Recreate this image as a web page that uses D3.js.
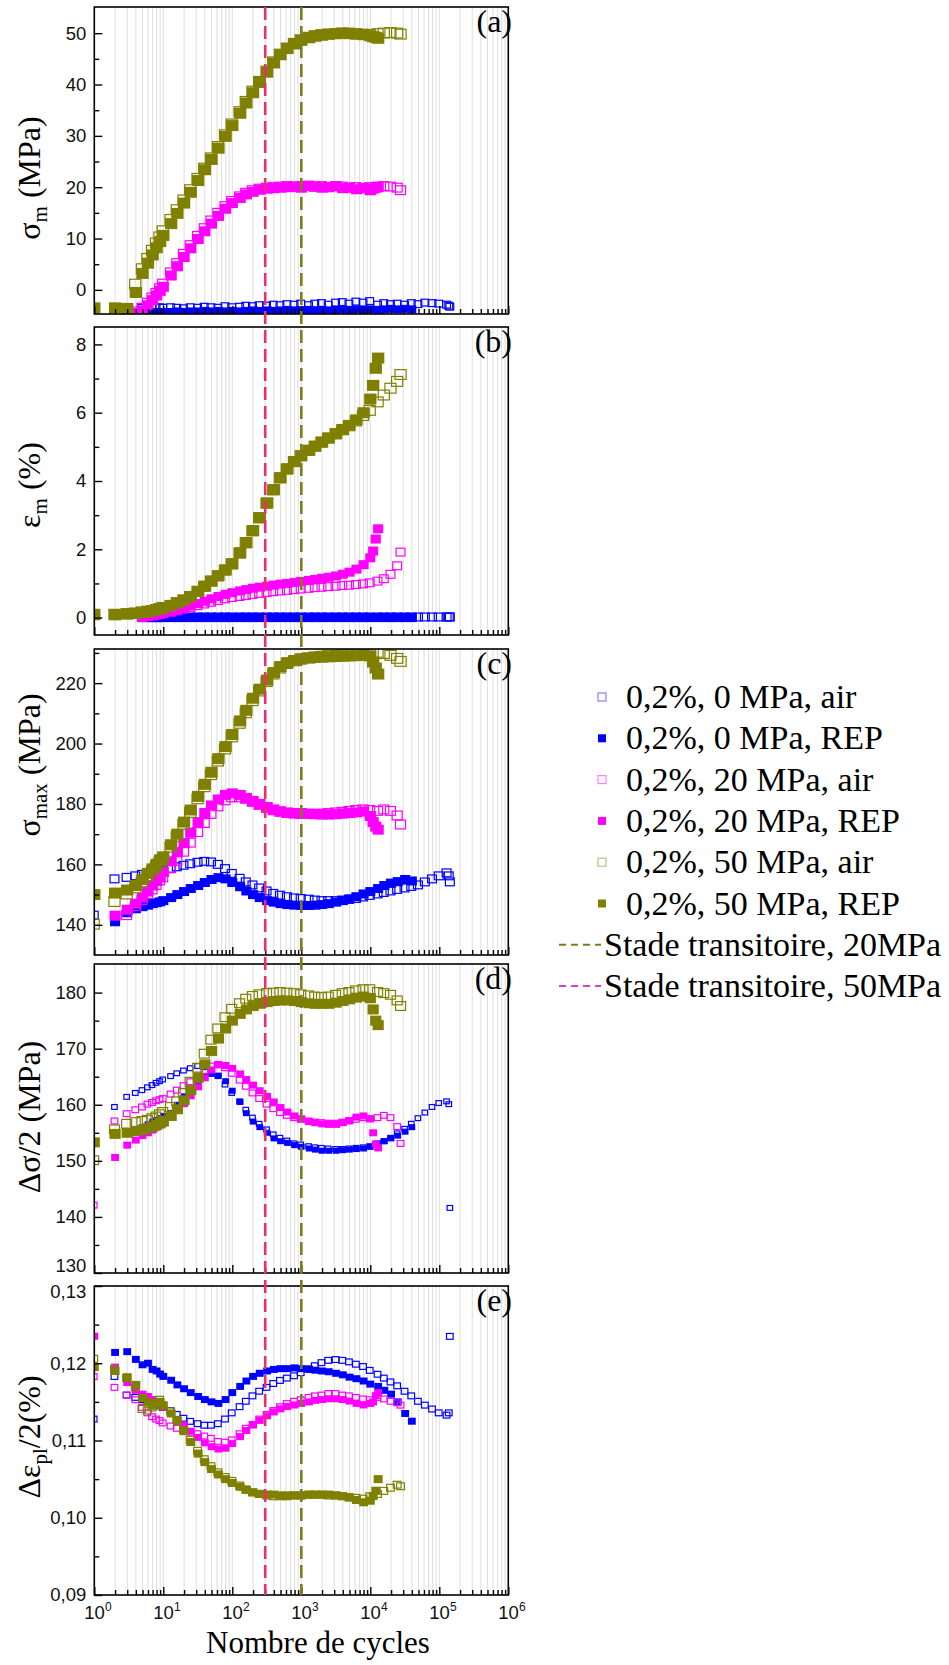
<!DOCTYPE html>
<html><head><meta charset="utf-8">
<script src="https://cdn.jsdelivr.net/npm/d3@7"></script>
<style>
html,body{margin:0;padding:0;background:#fff;}
svg{display:block;}
</style></head><body>
<svg id="chart" width="949" height="1665"></svg>
<script>
// ---------------- DATA ----------------
// shared cycle points (N)
const CYC = [1,2,3,4,5,6,7,8,9,10,13,16,20,25,32,40,50,63,80,100,130,160,200,250,320,400,500,630,800,1000,1300,1600,2000,2500,3200,4000,5000,6300,8000,10000];
const cycAir0  = CYC.concat([13000,16000,20000,25000,32000,40000,50000,63000,80000,100000,130000,140000,145000]);
const cycRep0  = CYC.concat([13000,16000,20000,25000,32000,40000]);
const cycAir20 = CYC.concat([13000,16000,20000,25000,28000]);
const cycRep20 = CYC.concat([11000,12000,13000]);
const cycAir50 = CYC.concat([13000,16000,20000,25000,28000]);
const cycRep50 = CYC.concat([11000,12000,13000]);

const seriesLabels = ["0,2%, 0 MPa, air","0,2%, 0 MPa, REP","0,2%, 20 MPa, air","0,2%, 20 MPa, REP","0,2%, 50 MPa, air","0,2%, 50 MPa, REP"];
const stageLabels = ["Stade transitoire, 20MPa","Stade transitoire, 50MPa"];
const stageCycles = [1000, 300];

// (a) sigma_m (MPa)
const A_air0 = [null,null,null,null,-3.6,-3.7,-3.5,-3.6,-3.5,-3.6,
 -3.5,-3.6,-3.7,-3.5,-3.6,-3.4,-3.5,-3.6,-3.3,-3.5,
 -3.4,-3.2,-3.3,-3.1,-3.2,-3.0,-3.1,-2.9,-3.0,-2.8,
 -3.1,-2.8,-2.7,-3.0,-2.6,-2.5,-2.8,-2.4,-2.6,-2.3,
 -3.0,-2.7,-2.9,-2.8,-3.0,-2.7,-2.9,-2.6,-2.7,-2.8,-3.0,-3.2,-3.4];
const A_rep0 = [null,null,null,null,-4.4,-4.4,-4.3,-4.4,-4.3,-4.3,
 -4.3,-4.2,-4.3,-4.2,-4.2,-4.1,-4.2,-4.1,-4.2,-4.1,
 -4.2,-4.1,-4.0,-4.1,-4.0,-4.1,-4.0,-3.9,-4.0,-4.0,
 -3.9,-4.0,-3.9,-4.0,-3.9,-3.8,-3.9,-3.8,-3.9,-3.8,
 -3.9,-3.8,-3.7,-3.8,-3.7,-3.8];
const A_air20 = [null,null,null,-4.3,-3.6,-2.6,-1.6,-0.7,0.2,1.1,
 3.3,5.1,6.9,8.6,10.4,11.9,13.4,14.9,16.2,17.2,
 18.1,18.8,19.3,19.6,19.8,19.9,20.0,20.1,20.0,20.1,
 20.2,20.0,20.1,19.9,20.1,20.0,19.8,19.9,19.7,19.9,
 20.0,20.1,20.0,19.8,19.3];
const A_rep20 = [null,null,null,-4.5,-4.0,-3.0,-2.0,-1.1,-0.2,0.6,
 2.8,4.6,6.4,8.1,9.9,11.4,12.9,14.4,15.8,16.9,
 17.9,18.6,19.1,19.5,19.7,19.8,19.9,20.0,20.1,19.9,
 20.2,20.1,19.9,20.0,20.2,19.8,19.9,19.6,19.8,19.4,
 19.7,19.9,20.0];
const A_air50 = [null,null,null,1.0,4.0,6.0,7.6,9.0,10.2,11.4,
 13.6,15.5,17.4,19.4,21.6,23.6,25.6,27.8,30.1,32.2,
 34.6,36.6,38.6,40.5,42.5,44.3,45.8,47.0,47.9,48.6,
 49.1,49.4,49.6,49.7,49.8,49.9,49.9,49.8,49.7,49.6,
 49.8,49.9,50.0,49.9,49.7];
const A_rep50 = [-3.5,-3.5,-3.6,-0.5,3.2,5.2,6.8,8.2,9.4,10.6,
 12.9,14.9,16.9,19.0,21.3,23.4,25.4,27.6,29.9,32.0,
 34.4,36.4,38.4,40.4,42.4,44.2,45.8,47.0,47.9,48.6,
 49.1,49.4,49.6,49.8,49.9,50.0,49.9,49.8,49.7,49.5,
 49.3,49.2,49.0];

// (b) epsilon_m (%)
const B_air0 = [null,null,null,null,0,0,0,0,0,0,
 0,0,0,0,0,0,0,0,0,0,
 0,0,0,0,0,0,0,0,0,0,
 0,0,0,0,0,0,0,0,0,0,
 0,0,0,0,0,0,0,0,0,0,0,0,0];
const B_rep0 = [null,null,null,null,0,0,0,0,0,0,
 0,0,0,0,0,0,0,0,0,0,
 0,0,0,0,0,0,0,0,0,0,
 0,0,0,0,0,0,0,0,0,0,
 0,0,0,0,0,0];
const B_air20 = [null,null,null,null,0.0,0.02,0.04,0.06,0.08,0.1,
 0.14,0.18,0.23,0.28,0.33,0.38,0.43,0.48,0.53,0.57,
 0.6,0.63,0.66,0.69,0.72,0.74,0.76,0.78,0.8,0.82,
 0.84,0.86,0.87,0.89,0.9,0.92,0.93,0.95,0.97,1.0,
 1.05,1.12,1.25,1.5,1.9];
const B_rep20 = [null,null,null,null,0.0,0.03,0.05,0.08,0.1,0.12,
 0.17,0.22,0.28,0.34,0.41,0.48,0.55,0.62,0.68,0.73,
 0.78,0.82,0.86,0.89,0.92,0.95,0.98,1.0,1.03,1.06,
 1.09,1.12,1.15,1.18,1.22,1.27,1.33,1.42,1.55,1.75,
 1.95,2.3,2.6];
const B_air50 = [0.08,0.08,0.1,0.12,0.15,0.17,0.19,0.22,0.25,0.28,
 0.34,0.42,0.5,0.6,0.75,0.9,1.05,1.2,1.37,1.55,
 1.87,2.17,2.52,2.9,3.33,3.72,4.07,4.33,4.55,4.72,
 4.88,5.0,5.12,5.24,5.36,5.48,5.6,5.74,5.9,6.05,
 6.3,6.5,6.7,6.9,7.1];
const B_rep50 = [0.08,0.08,0.1,0.12,0.15,0.17,0.2,0.23,0.26,0.28,
 0.35,0.43,0.51,0.62,0.77,0.92,1.07,1.23,1.4,1.58,
 1.9,2.2,2.55,2.93,3.36,3.75,4.1,4.36,4.57,4.74,
 4.9,5.02,5.14,5.26,5.39,5.51,5.63,5.79,6.0,6.4,
 6.8,7.3,7.6];

// (c) sigma_max (MPa)
const C_air0 = [143,155,155.5,156,156.5,157,157.3,157.6,157.8,158,
 158.5,159,159.5,160,160.5,160.8,160.6,159.8,158.4,156.8,
 155.2,154,153,152,151,150.2,149.6,149.1,148.7,148.5,
 148.3,148,147.8,147.8,147.8,148,148.2,148.5,149,149.5,
 150,150.5,151,151.5,152,152.5,153,154,155,156,157,156,154];
const C_rep0 = [null,141,144,145.3,146,146.5,147,147.3,147.6,148,
 149,150,151,152,153,154,155,155.6,155.2,154,
 152.6,151.2,150,149,148,147.5,147,146.7,146.5,146.4,
 146.4,146.5,146.7,147,147.5,148,148.6,149.3,150.2,151,
 152,153,153.8,154.3,155,154.5];
const C_air20 = [null,null,143,146,148,150,151.5,153,154.5,155.5,
 158.5,161,164,167,170.5,173.5,176.5,179,181,182,
 182,181.5,180.5,179.5,178.5,177.7,177.2,176.8,176.6,176.5,
 176.5,176.5,176.6,176.8,177,177.2,177.5,177.8,178,177.8,
 177.5,178,177.5,176,173];
const C_rep20 = [null,143,145,147,149,151,153,154.5,156,157.5,
 161,164,167,170.5,174,177,179.5,181.5,183,183.5,
 183,182,181,180,179,178.2,177.6,177.2,177,177,
 176.8,176.6,176.5,176.5,176.6,176.8,177,177.2,177.5,176,
 174,172.5,171.5];
const C_air50 = [140,147.5,150,152,154,156,157.5,159,160.5,161.5,
 165.5,169,173,177,181.5,185.5,189.5,194,198,202,
 206.5,210,214,217.2,220.3,222.8,224.8,226.3,227.2,227.8,
 228.2,228.5,228.7,228.9,229,229.2,229.3,229.5,229.5,229.6,
 230,229.6,229,228,227];
const C_rep50 = [150,150.5,151.5,153,155,157,158.5,160,161.5,162.5,
 166.5,170,174,178,182.5,186.5,190.5,195,199,203,
 207.5,211,215,218,221,223.5,225.5,226.8,227.5,228,
 228.3,228.5,228.6,228.7,228.8,228.9,229,229.1,229.2,229,
 227,225,223];

// (d) delta sigma / 2 (MPa)
const D_air0 = [null,159.5,161.3,162,162.5,163,163.4,163.8,164.1,164.4,
 165,165.5,166,166.4,166.8,166.6,166,165,163.5,162,
 160.5,159,157.6,156.5,155.5,154.6,154,153.5,153,152.8,
 152.5,152.3,152.2,152.1,152,152,152.1,152.2,152.3,152.5,
 153,153.4,154,154.8,155.6,156.5,157.5,158.5,159.5,160.2,160.5,160,141.5];
const D_rep0 = [null,null,155,155.5,156,156.5,157,157.3,157.6,158,
 158.5,160,161.5,162.8,164,165,165.5,165.2,164.2,162.5,
 160.5,158.5,157,156,155,154,153.5,153.2,152.8,152.5,
 152.2,152,151.8,151.8,151.8,151.9,152,152.1,152.2,152.5,
 153,153.5,154,154.5,155.2,156];
const D_air20 = [142,157,158.3,159,159.5,160,160.3,160.6,160.8,161,
 161.8,162.5,163.3,164,165,166,166.8,167,166.5,165.5,
 164.3,163.2,162,161,160,159.2,158.5,158,157.6,157.3,
 157,156.8,156.7,156.6,156.6,156.8,157,157.3,157.6,157.4,
 157.6,158,157.6,156,153];
const D_rep20 = [null,150.6,152.8,153.7,154.5,155,155.5,156,156.4,156.8,
 158,159,160.2,161.6,163.2,164.8,166.2,167.2,167,166.5,
 165.5,164.5,163.5,162.5,161.5,160.5,159.5,158.7,158,157.5,
 157,156.8,156.6,156.5,156.5,156.8,157.2,157.8,158,157.5,
 155,153,152.3];
const D_air50 = [150,155.5,156.5,156.8,157,157.2,157.5,157.8,158.2,158.6,
 159.5,160.5,162,164,166.5,169,171.5,173.5,175.5,177,
 178,178.8,179.3,179.6,179.8,179.9,180,179.9,179.8,179.6,
 179.4,179.2,179.1,179.2,179.5,179.8,180,180.3,180.5,180.5,
 180,179.8,179.5,178.5,177.5];
const D_rep50 = [153.3,154.8,155,155.3,155.5,155.8,156.1,156.4,156.7,157,
 158,159.2,160.8,162.6,164.8,167.2,169.6,171.8,173.6,175,
 176.2,177,177.6,178,178.3,178.5,178.6,178.6,178.5,178.3,
 178.1,178,178,178,178.2,178.5,178.8,179.1,179.3,179,
 177,175,174.2];

// (e) delta eps_pl / 2 (%)
const E_air0 = [0.1127,0.1182,0.1158,0.1155,0.1152,0.115,0.1148,0.1146,0.1144,0.1142,
 0.1138,0.1133,0.1128,0.1124,0.1121,0.1119,0.1119,0.1121,0.1127,0.1135,
 0.1143,0.115,0.1157,0.1163,0.1168,0.1173,0.1177,0.118,0.1183,0.1187,
 0.1192,0.1196,0.12,0.1203,0.1204,0.1203,0.1201,0.1198,0.1195,0.119,
 0.1185,0.118,0.1175,0.117,0.1163,0.1157,0.115,0.1145,0.114,0.1135,0.1132,0.1135,0.1234];
const E_rep0 = [null,0.1214,0.1215,0.1205,0.1198,0.12,0.1192,0.119,0.1186,0.1183,
 0.1178,0.1172,0.1167,0.1162,0.1157,0.1153,0.115,0.1148,0.1153,0.1162,
 0.117,0.1177,0.1183,0.1187,0.119,0.1192,0.1193,0.1193,0.1194,0.1193,
 0.1192,0.1191,0.119,0.1189,0.1187,0.1185,0.1182,0.118,0.1177,0.1173,
 0.117,0.1165,0.116,0.115,0.1135,0.1125];
const E_air20 = [0.1182,0.1168,0.1158,0.1152,0.1142,0.1135,0.113,0.1127,0.1125,0.1122,
 0.1118,0.1115,0.1112,0.111,0.1108,0.1105,0.1102,0.1098,0.1097,0.11,
 0.1108,0.1115,0.112,0.1127,0.1133,0.1138,0.1143,0.1147,0.115,0.1152,
 0.1155,0.1157,0.1158,0.116,0.116,0.1158,0.1157,0.1155,0.1153,0.1152,
 0.1155,0.1153,0.115,0.1148,0.1145];
const E_rep20 = [0.1235,0.1195,0.1175,0.1165,0.116,0.1157,0.1153,0.115,0.1147,0.1143,
 0.1135,0.1127,0.112,0.1112,0.1104,0.1097,0.1092,0.1089,0.109,0.1096,
 0.1105,0.1113,0.112,0.1126,0.1132,0.1137,0.1141,0.1144,0.1146,0.1148,
 0.115,0.1152,0.1153,0.1154,0.1154,0.1153,0.1151,0.1148,0.1146,0.1148,
 0.115,0.1158,0.1162];
const E_air50 = [0.1205,0.1192,0.118,0.1168,0.114,0.1138,0.1142,0.1145,0.1152,0.1145,
 0.1137,0.1126,0.1113,0.11,0.1086,0.1075,0.1066,0.1058,0.1052,0.1047,
 0.1041,0.1036,0.1032,0.103,0.1028,0.1027,0.1027,0.1027,0.1028,0.1028,
 0.1029,0.1029,0.1029,0.1028,0.1028,0.1027,0.1026,0.1025,0.1024,0.1027,
 0.103,0.1034,0.1038,0.1042,0.104];
const E_rep50 = [0.1195,0.119,0.1182,0.1172,0.1155,0.115,0.1145,0.1148,0.115,0.1145,
 0.1135,0.1125,0.1112,0.1098,0.1083,0.1072,0.1063,0.1056,0.105,0.1045,
 0.104,0.1036,0.1033,0.1031,0.103,0.103,0.1029,0.1029,0.1029,0.1029,
 0.103,0.103,0.103,0.103,0.1029,0.1028,0.1026,0.1023,0.102,0.1022,
 0.1028,0.1035,0.105];

// axis tick values
const xMajorTicks = [1,10,100,1000,10000,100000,1000000];
const xTickExp = ["0","1","2","3","4","5","6"];
const yTicksA = [0,10,20,30,40,50],            yMinorA = [5,15,25,35,45];
const yTicksB = [0,2,4,6,8],                   yMinorB = [1,3,5,7];
const yTicksC = [140,160,180,200,220],         yMinorC = [150,170,190,210,230];
const yTicksD = [130,140,150,160,170,180],     yMinorD = [135,145,155,165,175];
const yTicksE = [0.09,0.10,0.11,0.12,0.13],    yMinorE = [0.095,0.105,0.115,0.125];

// ---------------- DRAWING ----------------
const COLORS = {blue:'#0000ff', pink:'#ff00ff', olive:'#808000'};
const SERIES = [
  {key:'air0',  label:seriesLabels[0], grp:'blue',  open:true,  cyc:cycAir0},
  {key:'rep0',  label:seriesLabels[1], grp:'blue',  open:false, cyc:cycRep0},
  {key:'air20', label:seriesLabels[2], grp:'pink',  open:true,  cyc:cycAir20},
  {key:'rep20', label:seriesLabels[3], grp:'pink',  open:false, cyc:cycRep20},
  {key:'air50', label:seriesLabels[4], grp:'olive', open:true,  cyc:cycAir50},
  {key:'rep50', label:seriesLabels[5], grp:'olive', open:false, cyc:cycRep50}
];
const drawOrder = ['rep0','air0','rep20','air20','rep50','air50'];

const fmtComma = d => d3.format('.2f')(d).replace('.', ',');
const PANELS = [
  {id:'a', top:7,    bottom:314,  domain:[-4.7,55.1], major:yTicksA, minor:yMinorA, fmt:d3.format('d'),
   vals:{air0:A_air0,rep0:A_rep0,air20:A_air20,rep20:A_rep20,air50:A_air50,rep50:A_rep50},
   size:{blue:8,pink:10,olive:11}, labelY:178, label:[['σ',0],['m',1],[' (MPa)',0]]},
  {id:'b', top:327,  bottom:635,  domain:[-0.51,8.51], major:yTicksB, minor:yMinorB, fmt:d3.format('d'),
   vals:{air0:B_air0,rep0:B_rep0,air20:B_air20,rep20:B_rep20,air50:B_air50,rep50:B_rep50},
   size:{blue:9,pink:9,olive:11}, labelY:485, label:[['ε',0],['m',1],[' (%)',0]]},
  {id:'c', top:649,  bottom:955,  domain:[130,231.3], major:yTicksC, minor:yMinorC, fmt:d3.format('d'),
   vals:{air0:C_air0,rep0:C_rep0,air20:C_air20,rep20:C_rep20,air50:C_air50,rep50:C_rep50},
   size:{blue:9,pink:10,olive:11}, labelY:765, label:[['σ',0],['max',1],[' (MPa)',0]]},
  {id:'d', top:964,  bottom:1273, domain:[130,185.1], major:yTicksD, minor:yMinorD, fmt:d3.format('d'),
   vals:{air0:D_air0,rep0:D_rep0,air20:D_air20,rep20:D_rep20,air50:D_air50,rep50:D_rep50},
   size:{blue:6,pink:7,olive:10}, labelY:1117, label:[['Δσ/2 (MPa)',0]]},
  {id:'e', top:1286, bottom:1595, domain:[0.09,0.13], major:yTicksE, minor:yMinorE, fmt:fmtComma,
   vals:{air0:E_air0,rep0:E_rep0,air20:E_air20,rep20:E_rep20,air50:E_air50,rep50:E_rep50},
   size:{blue:7,pink:7,olive:8}, labelY:1437, label:[['Δε',0],['pl',1],['/2(%)',0]]}
];

const svg = d3.select('#chart');
const x = d3.scaleLog().domain([1,1e6]).range([94.3,508.3]);
const X0 = x.range()[0], X1 = x.range()[1];

// minor positions for the log axis (2..9 x 10^k)
const xMinorTicks = [];
xMajorTicks.slice(0,-1).forEach(p => { for (let m=2;m<=9;m++) xMinorTicks.push(m*p); });
const gridVals = xMajorTicks.concat(xMinorTicks);

const defs = svg.append('defs');
const sansFont = "'Liberation Sans', Arial, sans-serif";
const serifFont = "'Liberation Serif', 'Times New Roman', serif";

PANELS.forEach(p => {
  const y = d3.scaleLinear().domain(p.domain).range([p.bottom, p.top]);
  const g = svg.append('g').attr('class','panel-'+p.id);
  defs.append('clipPath').attr('id','clip-'+p.id).append('rect')
    .attr('x',X0).attr('y',p.top).attr('width',X1-X0).attr('height',p.bottom-p.top);

  // vertical grid
  g.append('g').selectAll('line').data(gridVals).join('line')
    .attr('x1',d=>x(d)).attr('x2',d=>x(d)).attr('y1',p.top).attr('y2',p.bottom)
    .attr('stroke','#dedede').attr('stroke-width',1);

  const marks = g.append('g').attr('clip-path','url(#clip-'+p.id+')');
  drawOrder.forEach(k => {
    const s = SERIES.find(d=>d.key===k);
    const vals = p.vals[k];
    const pts = s.cyc.map((c,i)=>[c, vals[i]]).filter(d=>d[1]!==null && d[1]!==undefined);
    const sz = p.size[s.grp];
    const w = sz*1.12, h = sz;
    marks.append('g').selectAll('rect').data(pts).join('rect')
      .attr('x',d=>x(d[0])-w/2).attr('y',d=>y(d[1])-h/2)
      .attr('width', s.open ? w-1.2 : w).attr('height', s.open ? h-1.2 : h)
      .attr('fill', s.open ? 'none' : COLORS[s.grp])
      .attr('stroke', s.open ? COLORS[s.grp] : 'none')
      .attr('stroke-width', 1.2);
  });

  // frame
  g.append('rect').attr('x',X0).attr('y',p.top).attr('width',X1-X0).attr('height',p.bottom-p.top)
    .attr('fill','none').attr('stroke','#000').attr('stroke-width',1.6);

  // x ticks (inward)
  const xa1 = g.append('g').attr('transform',`translate(0,${p.bottom})`)
    .call(d3.axisBottom(x).tickValues(xMajorTicks).tickSize(-8).tickFormat(''));
  const xa2 = g.append('g').attr('transform',`translate(0,${p.bottom})`)
    .call(d3.axisBottom(x).tickValues(xMinorTicks).tickSize(-5).tickFormat(''));
  // y ticks (inward)
  const ya1 = g.append('g').attr('transform',`translate(${X0},0)`)
    .call(d3.axisLeft(y).tickValues(p.major).tickSize(-8).tickPadding(8).tickFormat(p.fmt));
  const ya2 = g.append('g').attr('transform',`translate(${X0},0)`)
    .call(d3.axisLeft(y).tickValues(p.minor).tickSize(-5).tickFormat(''));
  [xa1,xa2,ya1,ya2].forEach(a => {
    a.select('.domain').remove();
    a.selectAll('line').attr('stroke','#000').attr('stroke-width',1.4);
  });
  ya1.attr('font-family',sansFont).attr('font-size',18.5);
  ya1.selectAll('text').attr('fill','#111');
  // keep the shared "130" / "0,13" corner labels apart
  if (p.id==='d') ya1.selectAll('text').filter(d=>d===130).attr('dy','-0.1em');
  if (p.id==='e') ya1.selectAll('text').filter(d=>d===0.13).attr('dy','0.62em');

  // panel letter
  g.append('text').attr('x',512).attr('y',p.top+25).attr('text-anchor','end')
    .attr('font-family',serifFont).attr('font-size',32).attr('fill','#000').text('('+p.id+')');

  // y title
  const t = g.append('text').attr('transform',`translate(40,${p.labelY}) rotate(-90)`)
    .attr('text-anchor','middle').attr('font-family',serifFont).attr('font-size',32).attr('fill','#000');
  let sub = false;
  p.label.forEach(([txt,isSub]) => {
    const ts = t.append('tspan').text(txt);
    if (isSub && !sub) { ts.attr('font-size',21).attr('dy',7); sub = true; }
    else if (!isSub && sub) { ts.attr('dy',-7); sub = false; }
  });
});

// transition-stage dashed lines across all panels
const STAGE_COLORS = ['#7c7c1c', '#ea2f6e'];
stageCycles.forEach((c,i) => {
  svg.append('line').attr('x1',x(c)).attr('x2',x(c))
    .attr('y1',PANELS[0].top).attr('y2',PANELS[4].bottom)
    .attr('stroke',STAGE_COLORS[i]).attr('stroke-width',2.6).attr('stroke-dasharray','13,6');
});

// x tick labels (bottom panel only)
const last = PANELS[4];
const xl = svg.append('g').attr('font-family',sansFont).attr('fill','#111');
xMajorTicks.forEach((v,i) => {
  const t = xl.append('text').attr('x',x(v)-10).attr('y',last.bottom+24).attr('font-size',18.5);
  t.append('tspan').text('10');
  t.append('tspan').attr('font-size',12).attr('dy',-8).text(xTickExp[i]);
});
svg.append('text').attr('x',318).attr('y',1653).attr('text-anchor','middle')
  .attr('font-family',serifFont).attr('font-size',31).attr('fill','#000').text('Nombre de cycles');

// legend
const LEG_Y0 = 697, LEG_DY = 41.3;
const lg = svg.append('g');
SERIES.forEach((s,i) => {
  const yy = LEG_Y0 + i*LEG_DY;
  lg.append('rect').attr('x',598).attr('y',yy-4).attr('width',8).attr('height',8)
    .attr('fill', s.open ? '#fff' : COLORS[s.grp])
    .attr('stroke', COLORS[s.grp]).attr('stroke-opacity', s.open ? 0.5 : 0).attr('stroke-width',1.2);
  lg.append('text').attr('x',626).attr('y',yy+11).attr('font-family',serifFont).attr('font-size',34)
    .attr('fill','#000').text(s.label);
});
stageLabels.forEach((lab,i) => {
  const yy = LEG_Y0 + (6+i)*LEG_DY;
  lg.append('line').attr('x1',559).attr('x2',601).attr('y1',yy).attr('y2',yy)
    .attr('stroke', i===0 ? '#7c7c1c' : '#e040c0').attr('stroke-width',2).attr('stroke-dasharray','7,5');
  lg.append('text').attr('x',604).attr('y',yy+11).attr('font-family',serifFont).attr('font-size',34)
    .attr('fill','#000').text(lab);
});
</script></body></html>
